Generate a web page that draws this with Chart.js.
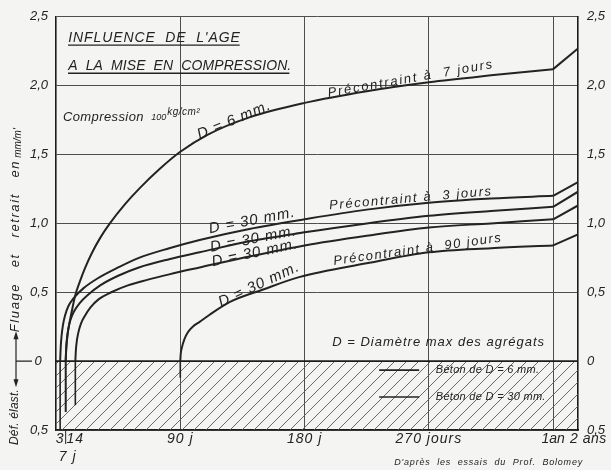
<!DOCTYPE html>
<html>
<head>
<meta charset="utf-8">
<script src="https://cdn.jsdelivr.net/npm/chart.js@4/dist/chart.umd.min.js"></script>
<style>
  html, body { margin: 0; padding: 0; background: #f4f4f2; }
  #wrap { width: 611px; height: 470px; }
</style>
</head>
<body>
<div id="wrap"><canvas id="fluage" width="611" height="470"></canvas></div>
<script>
// ---- data (days after casting, mm/m') ----
var xTickDays = [3, 7, 14, 90, 180, 270, 360, 378];
var xTickText = ['3', '7 j', '14', '90 j', '180 j', '270 jours', '1an', '2 ans'];
var yTicks = [-0.5, 0, 0.5, 1, 1.5, 2, 2.5];

// D = 6 mm, précontraint à 7 jours
var d6j7Days = [7, 7.5, 8.5, 10, 12, 14, 17, 21, 26, 32, 39, 50, 61, 75, 90, 110, 140, 180, 225, 270, 315, 360];
var d6j7Vals = [0, 0.1, 0.2, 0.29, 0.39, 0.48, 0.57, 0.675, 0.785, 0.895, 1.0, 1.14, 1.26, 1.395, 1.52, 1.645, 1.77, 1.875, 1.96, 2.025, 2.075, 2.12];
// D = 30 mm, précontraint à 3 jours
var d30j3Days = [3, 3.4, 4, 5, 6.5, 9, 13, 20, 30, 45, 60, 82, 104, 140, 180, 225, 270, 315, 360];
var d30j3Vals = [0, 0.1, 0.18, 0.26, 0.33, 0.4, 0.46, 0.53, 0.6, 0.68, 0.75, 0.82, 0.88, 0.96, 1.03, 1.1, 1.15, 1.18, 1.2];
// D = 30 mm, précontraint à 7 jours
var d30j7Days = [7, 7.4, 8, 9, 10.5, 13, 17, 23, 32, 45, 60, 82, 104, 140, 180, 225, 270, 315, 360];
var d30j7Vals = [0, 0.1, 0.17, 0.24, 0.3, 0.36, 0.42, 0.48, 0.55, 0.62, 0.68, 0.74, 0.79, 0.87, 0.935, 1.0, 1.055, 1.09, 1.12];
// D = 30 mm, précontraint à 14 jours
var d30j14Days = [14, 14.4, 15, 16, 18, 21, 25, 31, 40, 52, 66, 82, 104, 140, 180, 225, 270, 315, 360];
var d30j14Vals = [0, 0.08, 0.14, 0.2, 0.27, 0.33, 0.39, 0.45, 0.5, 0.55, 0.59, 0.63, 0.68, 0.76, 0.84, 0.91, 0.97, 1.0, 1.03];
// D = 30 mm, précontraint à 90 jours
var d30j90Days = [90, 90.3, 91.2, 93, 95.5, 99, 104, 111, 126, 150, 176, 225, 270, 315, 360];
var d30j90Vals = [0, 0.05, 0.1, 0.16, 0.21, 0.25, 0.285, 0.335, 0.43, 0.52, 0.61, 0.71, 0.79, 0.82, 0.84];

var loadDays = [7, 3, 7, 14, 90];
var elasticDef = [-0.37, -0.5, -0.37, -0.32, -0.12];   // déformation élastique
var oneYearVals = [2.12, 1.2, 1.12, 1.03, 0.84];
var twoYearVals = [2.27, 1.3, 1.23, 1.13, 0.92];

var curveDays = [d6j7Days, d30j3Days, d30j7Days, d30j14Days, d30j90Days];
var curveVals = [d6j7Vals, d30j3Vals, d30j7Vals, d30j14Vals, d30j90Vals];

var ink = '#232323';
var font = '"Liberation Sans", "DejaVu Sans", sans-serif';

function pts(xs, ys) {
    return xs.map(function (x, i) { return { x: x, y: ys[i] }; });
}

function hatch(ctx) {
    var c = document.createElement('canvas');
    c.width = 12; c.height = 12;
    var g = c.getContext('2d');
    g.strokeStyle = '#5a5a5a';
    g.lineWidth = 0.9;
    g.beginPath();
    g.moveTo(0, 12); g.lineTo(12, 0);
    g.moveTo(-1, 1); g.lineTo(1, -1);
    g.moveTo(11, 13); g.lineTo(13, 11);
    g.stroke();
    return ctx.createPattern(c, 'repeat');
}

function decimal(v) {
    if (v === 0) return '0';
    return Math.abs(v).toFixed(1).replace('.', ',');
}

var datasets = [];
curveDays.forEach(function (days, i) {
    datasets.push({
        data: pts(days, curveVals[i]),
        borderColor: ink, borderWidth: 2, pointRadius: 0,
        cubicInterpolationMode: 'monotone', fill: false
    });
    // kink between 1 an and 2 ans
    datasets.push({
        data: pts([360, 378], [oneYearVals[i], twoYearVals[i]]),
        borderColor: ink, borderWidth: 2, pointRadius: 0, tension: 0, fill: false
    });
    // elastic deformation at loading
    datasets.push({
        data: pts([loadDays[i], loadDays[i]], [elasticDef[i], 0]),
        borderColor: ink, borderWidth: 1.6, pointRadius: 0, tension: 0, fill: false
    });
});

var ctx = document.getElementById('fluage').getContext('2d');

// hatched zone below 0, drawn first (last dataset)
datasets.push({
    data: pts([0, 378], [0, 0]),
    borderColor: '#1c1c1c', borderWidth: 1.6, pointRadius: 0,
    backgroundColor: hatch(ctx), fill: 'start'
});

// texts inside the plot, placed in data units [text, day, value, angle, size, spacing]
var curveLabels = [
    ['D = 6 mm.', 129, 1.75, -23, 15, 1],
    ['Précontraint à  7 jours', 257, 2.05, -10, 13, 1.8],
    ['Précontraint à  3 jours', 257, 1.18, -5, 13, 1.6],
    ['D = 30 mm.', 142, 1.02, -11, 15, 1],
    ['D = 30 mm.', 143, 0.885, -11, 15, 1],
    ['D = 30 mm.', 144, 0.785, -12, 15, 1],
    ['Précontraint à  90 jours', 262, 0.81, -8, 13, 1.5],
    ['D = 30 mm.', 147, 0.555, -25, 15, 1]
];

function put(c, s, x, y, size, angle, align, spacing) {
    c.save();
    c.translate(x, y);
    c.rotate((angle || 0) * Math.PI / 180);
    c.font = 'italic ' + size + 'px ' + font;
    c.fillStyle = ink;
    c.textAlign = 'center';
    c.textBaseline = 'middle';
    c.letterSpacing = (spacing || 0) + 'px';
    var w = c.measureText(s).width;
    var cx = align === 'left' ? w / 2 : (align === 'right' ? -w / 2 : 0);
    c.fillText(s, cx, 0);
    c.restore();
}

var sheet = {
    id: 'sheet',
    beforeDraw: function (chart) {
        var c = chart.ctx;
        c.save();
        c.fillStyle = '#f4f4f2';
        c.fillRect(0, 0, chart.width, chart.height);
        c.restore();
    },
    afterDraw: function (chart) {
        var c = chart.ctx, xs = chart.scales.x, ys = chart.scales.y;
        var X = function (d) { return xs.getPixelForValue(d); };
        var Y = function (v) { return ys.getPixelForValue(v); };

        // title
        put(c, 'INFLUENCE  DE  L\'AGE', X(8.9), Y(2.345), 14, 0, 'left', 0.9);
        put(c, 'A  LA  MISE  EN  COMPRESSION.', X(8.9), Y(2.14), 14, 0, 'left', 0.1);
        c.save();
        c.strokeStyle = ink; c.lineWidth = 1.3;
        c.beginPath();
        c.moveTo(X(8.7), Y(2.295)); c.lineTo(X(133), Y(2.295));
        c.moveTo(X(8.7), Y(2.09)); c.lineTo(X(169), Y(2.09));
        c.stroke();
        c.restore();

        put(c, 'Compression', X(5), Y(1.77), 13, 0, 'left', 0.4);
        put(c, '100', X(69), Y(1.77), 9, 0, 'left', 0);
        put(c, 'kg/cm²', X(80.5), Y(1.805), 10, 0, 'left', 0.5);

        curveLabels.forEach(function (l) {
            put(c, l[0], X(l[1]), Y(l[2]), l[4], l[3], 'center', l[5]);
        });

        put(c, 'D = Diamètre max des agrégats', X(200), Y(0.137), 13, 0, 'left', 1);

        // legend in hatched zone
        c.save();
        c.strokeStyle = ink; c.lineWidth = 1.6;
        c.beginPath();
        c.moveTo(X(234), Y(-0.065)); c.lineTo(X(263), Y(-0.065));
        c.moveTo(X(234), Y(-0.26)); c.lineTo(X(263), Y(-0.26));
        c.stroke();
        c.restore();
        put(c, 'Béton de D = 6 mm.', X(275), Y(-0.065), 11, 0, 'left', 0.3);
        put(c, 'Béton de D = 30 mm.', X(275), Y(-0.26), 11, 0, 'left', 0.3);

        // x labels
        var base = chart.chartArea.bottom;
        xTickDays.forEach(function (d, i) {
            var t = xTickText[i];
            if (t === '7 j') put(c, t, X(d) + 2, base + 27, 14, 0, 'center', 1);
            else if (t === '2 ans') put(c, t, X(d) - 8, base + 9, 14, 0, 'left', 0.5);
            else if (t === '1an') put(c, t, X(d), base + 9, 14, 0, 'center', 0);
            else put(c, t, X(d), base + 9, 14, 0, 'center', 1);
        });
        // tick under 7 j
        c.save();
        c.strokeStyle = ink; c.lineWidth = 1;
        c.beginPath(); c.moveTo(X(7), base); c.lineTo(X(7), base + 14); c.stroke();
        c.restore();

        // y axis title
        put(c, 'Fluage   et   retrait   en', 15, 246, 13, -90, 'center', 1.6);
        put(c, 'mm/m\'', 18, 143, 10, -90, 'center', 0);
        put(c, 'Déf. élast.', 15, 417, 12, -90, 'center', 0.2);
        var y0 = Y(0);
        c.save();
        c.strokeStyle = ink; c.fillStyle = ink; c.lineWidth = 1.2;
        c.beginPath();
        c.moveTo(16, y0 - 27); c.lineTo(16, y0 + 23);
        c.moveTo(16, y0); c.lineTo(32, y0);
        c.stroke();
        c.beginPath(); c.moveTo(16, y0 - 30); c.lineTo(13.5, y0 - 22); c.lineTo(18.5, y0 - 22); c.fill();
        c.beginPath(); c.moveTo(16, y0 + 26); c.lineTo(13.5, y0 + 18); c.lineTo(18.5, y0 + 18); c.fill();
        c.restore();

        put(c, 'D\'après  les  essais  du  Prof.  Bolomey', 583, 462, 9, 0, 'right', 0.8);
    }
};

new Chart(ctx, {
    type: 'scatter',
    data: { datasets: datasets },
    options: {
        responsive: false,
        animation: false,
        showLine: true,
        layout: { padding: { top: 14, left: 0, right: 0, bottom: 0 } },
        plugins: { legend: { display: false }, tooltip: { enabled: false } },
        scales: {
            x: {
                type: 'linear', min: 0, max: 378,
                afterBuildTicks: function (s) {
                    s.ticks = xTickDays.map(function (v) { return { value: v }; });
                },
                afterFit: function (s) { s.height = 40; },
                ticks: { display: false },
                grid: {
                    drawTicks: false,
                    color: function (c) {
                        return [90, 180, 270, 360].indexOf(c.tick && c.tick.value) >= 0 ? '#4e4e4e' : 'rgba(0,0,0,0)';
                    },
                    lineWidth: 1
                },
                border: { color: '#1c1c1c', width: 1.6 }
            },
            y: {
                min: -0.5, max: 2.5,
                afterBuildTicks: function (s) {
                    s.ticks = yTicks.map(function (v) { return { value: v }; });
                },
                afterFit: function (s) { s.width = 56; },
                ticks: {
                    color: ink, padding: 8,
                    font: { family: font, size: 13, style: 'italic' },
                    callback: function (v) { return v === 0 ? '' : decimal(v); }
                },
                grid: {
                    drawTicks: false,
                    color: function (c) { return c.tick && c.tick.value === 0 ? 'rgba(0,0,0,0)' : '#4e4e4e'; },
                    lineWidth: 1
                },
                border: { color: '#1c1c1c', width: 1.6 }
            },
            y2: {
                position: 'right',
                min: -0.5, max: 2.5,
                afterBuildTicks: function (s) {
                    s.ticks = yTicks.map(function (v) { return { value: v }; });
                },
                afterFit: function (s) { s.width = 33; },
                ticks: {
                    color: ink, padding: 9,
                    font: { family: font, size: 13, style: 'italic' },
                    callback: function (v) { return decimal(v); }
                },
                grid: { drawOnChartArea: false, drawTicks: false },
                border: { color: '#1c1c1c', width: 1.6 }
            }
        }
    },
    plugins: [sheet, {
        id: 'zeroLabel',
        afterDraw: function (chart) {
            put(chart.ctx, '0', 38, chart.scales.y.getPixelForValue(0), 13, 0, 'center', 0);
        }
    }]
});
</script>
</body>
</html>
